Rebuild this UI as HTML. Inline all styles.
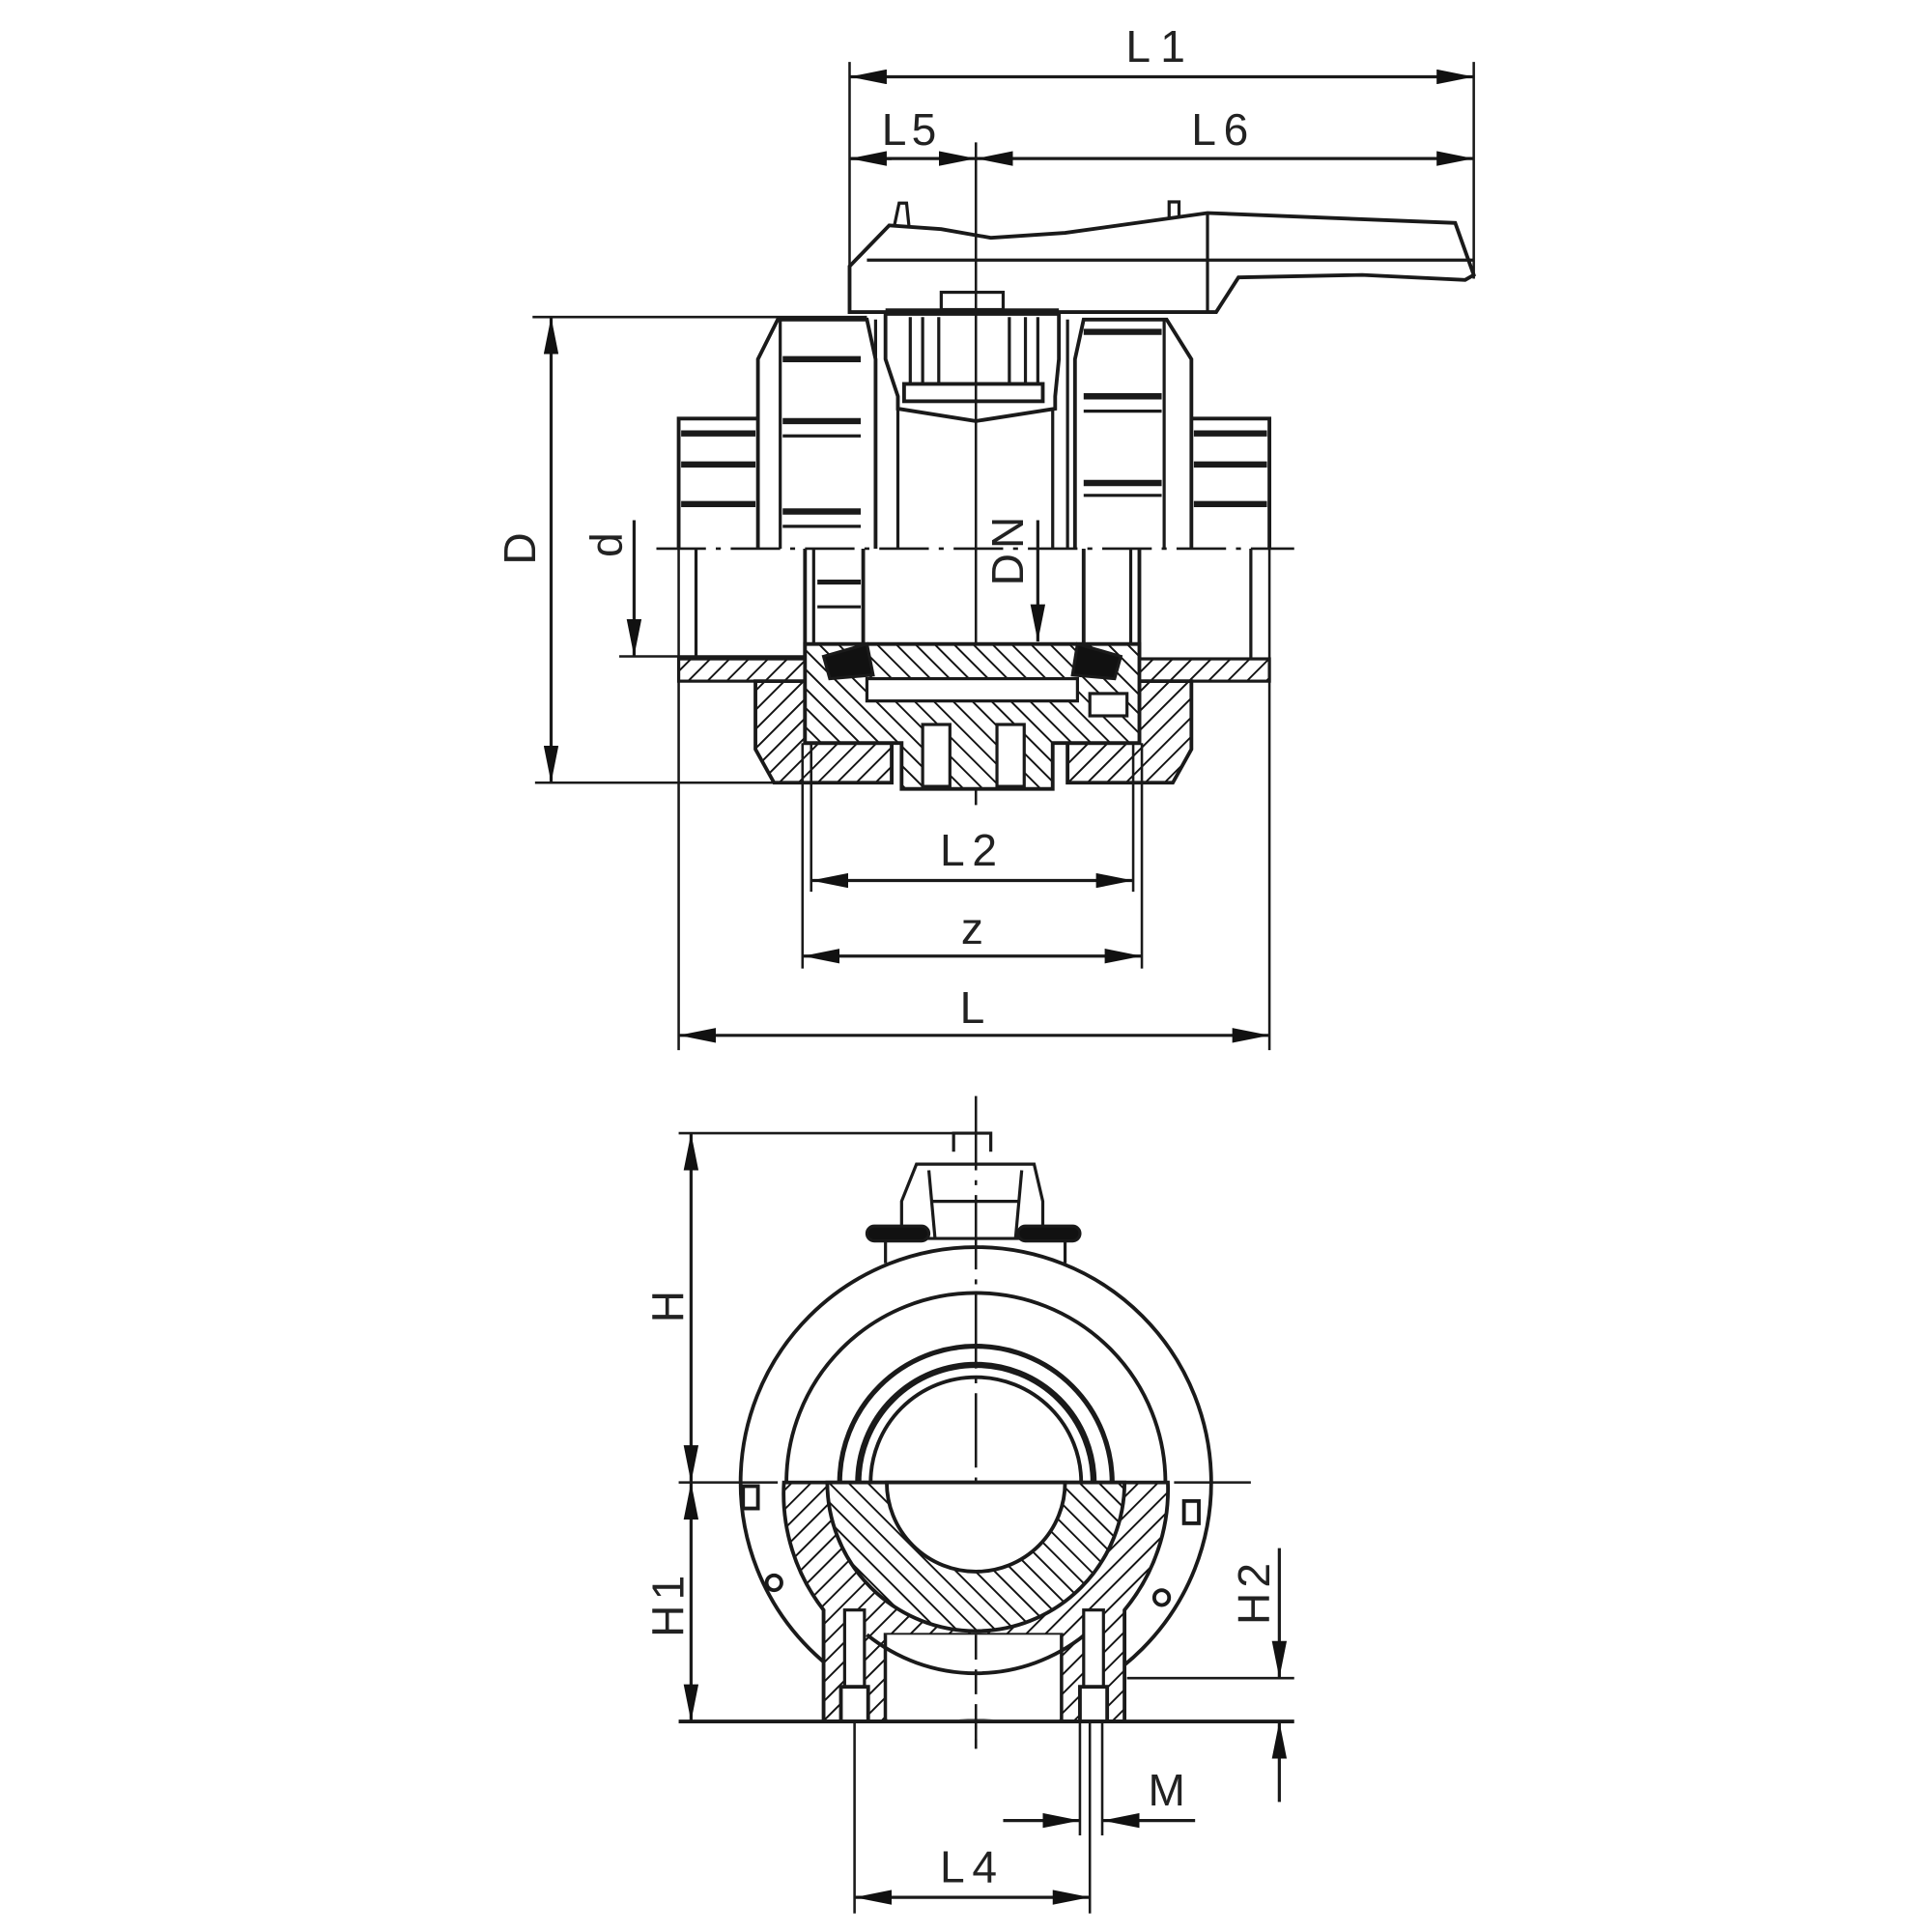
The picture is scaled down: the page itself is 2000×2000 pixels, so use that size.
<!DOCTYPE html>
<html><head><meta charset="utf-8"><style>
html,body{margin:0;padding:0;background:#fff}
svg{display:block}
text{font-family:"Liberation Sans Narrow","Liberation Sans",sans-serif;font-size:36px;fill:#222;text-anchor:middle}
</style></head><body>
<svg width="2000" height="2000" viewBox="0 0 1560 1560" xmlns="http://www.w3.org/2000/svg">
<defs>
<pattern id="h" width="11" height="11" patternUnits="userSpaceOnUse" patternTransform="rotate(45)">
<rect width="11" height="11" fill="#fff"/><line x1="0" y1="0" x2="0" y2="11" stroke="#111" stroke-width="3"/></pattern>
<pattern id="h2" width="11" height="11" patternUnits="userSpaceOnUse" patternTransform="rotate(-45)">
<rect width="11" height="11" fill="#fff"/><line x1="0" y1="0" x2="0" y2="11" stroke="#111" stroke-width="3"/></pattern>
<marker id="a" viewBox="0 0 30 12" refX="30" refY="6" markerWidth="30" markerHeight="12" markerUnits="userSpaceOnUse" orient="auto-start-reverse">
<path d="M0,0 L30,6 L0,12 Z" fill="#111"/></marker>
</defs>
<g fill="none" stroke="#1a1a1a" stroke-width="2.5">
<line x1="686" y1="50" x2="686" y2="250" stroke-width="2"/>
<line x1="1190" y1="50" x2="1190" y2="225" stroke-width="2"/>
<line x1="686" y1="62" x2="1190" y2="62" marker-start="url(#a)" marker-end="url(#a)"/>
<line x1="686" y1="128" x2="788" y2="128" marker-end="url(#a)"/>
<line x1="686" y1="128" x2="720" y2="128" marker-start="url(#a)"/>
<line x1="788" y1="128" x2="1190" y2="128" marker-start="url(#a)" marker-end="url(#a)"/>
<line x1="788" y1="115" x2="788" y2="650" stroke-width="2"/>
<path d="M686,250 L686,215 L718,182 L760,185 L800,192 L860,188 L975,172 L1175,180 L1190,222 L1183,226 L1100,222 L1000,224 L982,252 L686,252 Z" stroke-width="3"/>
<line x1="700" y1="210" x2="1190" y2="210"/>
<line x1="975" y1="172" x2="975" y2="252"/>
<path d="M722,183 L726,164 L732,164 L734,183"/>
<path d="M944,176 L944,163 L952,163 L952,176"/>
<line x1="430" y1="256" x2="700" y2="256" stroke-width="2"/>
<path d="M715,252 L715,290 L725,320 L725,330 L788,340 L852,330 L852,320 L855,290 L855,252" stroke-width="3"/>
<rect x="760" y="236" width="50" height="14"/>
<line x1="715" y1="252" x2="855" y2="252" stroke-width="6"/>
<line x1="735" y1="256" x2="735" y2="310"/><line x1="745" y1="256" x2="745" y2="310"/>
<line x1="828" y1="256" x2="828" y2="310"/><line x1="838" y1="256" x2="838" y2="310"/>
<line x1="758" y1="256" x2="758" y2="310"/><line x1="815" y1="256" x2="815" y2="310"/>
<rect x="730" y="310" width="112" height="14" stroke-width="3"/>
<line x1="707" y1="258" x2="707" y2="443"/><line x1="725" y1="330" x2="725" y2="443"/>
<line x1="850" y1="330" x2="850" y2="443"/><line x1="862" y1="258" x2="862" y2="443"/>
<path d="M612,443 L612,290 L628,258 L700,258 L707,290 L707,443" stroke-width="3"/>
<line x1="630" y1="258" x2="630" y2="443"/>
<g stroke-width="5"><line x1="632" y1="290" x2="695" y2="290"/><line x1="632" y1="340" x2="695" y2="340"/><line x1="632" y1="413" x2="695" y2="413"/></g>
<line x1="632" y1="352" x2="695" y2="352"/><line x1="632" y1="425" x2="695" y2="425"/>
<path d="M868,443 L868,290 L875,258 L942,258 L962,290 L962,443" stroke-width="3"/>
<line x1="940" y1="258" x2="940" y2="443"/>
<g stroke-width="5"><line x1="875" y1="320" x2="938" y2="320"/><line x1="875" y1="390" x2="938" y2="390"/><line x1="875" y1="268" x2="938" y2="268"/></g>
<line x1="875" y1="332" x2="938" y2="332"/><line x1="875" y1="400" x2="938" y2="400"/>
<path d="M612,338 L548,338 L548,443" stroke-width="3"/>
<path d="M962,338 L1025,338 L1025,443" stroke-width="3"/>
<g stroke-width="5"><line x1="550" y1="350" x2="610" y2="350"/><line x1="550" y1="375" x2="610" y2="375"/><line x1="550" y1="407" x2="610" y2="407"/>
<line x1="964" y1="350" x2="1023" y2="350"/><line x1="964" y1="375" x2="1023" y2="375"/><line x1="964" y1="407" x2="1023" y2="407"/></g>
<line x1="530" y1="443" x2="1045" y2="443" stroke-width="2" stroke-dasharray="40,8,4,8"/>
<line x1="548" y1="443" x2="548" y2="848" stroke-width="2"/>
<line x1="1025" y1="443" x2="1025" y2="848" stroke-width="2"/>
<line x1="562" y1="443" x2="562" y2="532"/><line x1="1010" y1="443" x2="1010" y2="532"/>
<line x1="650" y1="443" x2="650" y2="532" stroke-width="3"/><line x1="920" y1="443" x2="920" y2="532" stroke-width="3"/>
<line x1="657" y1="443" x2="657" y2="532"/><line x1="913" y1="443" x2="913" y2="532"/>
<line x1="697" y1="443" x2="697" y2="520" stroke-width="3"/><line x1="875" y1="443" x2="875" y2="520" stroke-width="3"/>
<line x1="660" y1="470" x2="695" y2="470" stroke-width="4"/><line x1="660" y1="490" x2="695" y2="490"/>
<rect x="548" y="532" width="477" height="18" fill="url(#h)"/>
<path d="M610,550 L610,605 L625,632 L720,632 L720,600 L650,600 L650,550 Z" fill="url(#h)" stroke-width="3"/>
<path d="M962,550 L962,605 L947,632 L862,632 L862,600 L920,600 L920,550 Z" fill="url(#h)" stroke-width="3"/>
<path d="M650,520 L920,520 L920,600 L850,600 L850,637 L728,637 L728,600 L650,600 Z" fill="url(#h2)" stroke-width="3"/>
<rect x="700" y="548" width="170" height="18" fill="#fff"/>
<rect x="745" y="585" width="22" height="50" fill="#fff"/><rect x="805" y="585" width="22" height="50" fill="#fff"/>
<path d="M665,530 L700,520 L705,545 L670,548 Z" fill="#111"/>
<path d="M905,530 L870,520 L866,545 L900,548 Z" fill="#111"/>
<rect x="880" y="560" width="30" height="18" fill="#fff"/>
<line x1="445" y1="256" x2="445" y2="632" marker-start="url(#a)" marker-end="url(#a)"/>
<line x1="432" y1="632" x2="690" y2="632" stroke-width="2"/>
<line x1="512" y1="420" x2="512" y2="530" marker-end="url(#a)"/>
<line x1="500" y1="530" x2="650" y2="530" stroke-width="2"/>
<line x1="838" y1="420" x2="838" y2="518" marker-end="url(#a)"/>
<line x1="655" y1="600" x2="655" y2="720" stroke-width="2"/><line x1="915" y1="600" x2="915" y2="720" stroke-width="2"/>
<line x1="648" y1="600" x2="648" y2="782" stroke-width="2"/><line x1="922" y1="600" x2="922" y2="782" stroke-width="2"/>
<line x1="655" y1="711" x2="915" y2="711" marker-start="url(#a)" marker-end="url(#a)"/>
<line x1="648" y1="772" x2="922" y2="772" marker-start="url(#a)" marker-end="url(#a)"/>
<line x1="548" y1="836" x2="1025" y2="836" marker-start="url(#a)" marker-end="url(#a)"/>
<line x1="788" y1="885" x2="788" y2="1412" stroke-width="2" stroke-dasharray="60,8,4,8"/>
<line x1="548" y1="1197" x2="1010" y2="1197" stroke-width="2" stroke-dasharray="80,8,4,8"/>
<line x1="548" y1="915" x2="785" y2="915" stroke-width="2"/>
<path d="M770,930 L770,915 L800,915 L800,930 M740,940 L835,940 L842,970 L842,1000 L728,1000 L728,970 Z" stroke-width="2.5"/>
<line x1="750" y1="945" x2="755" y2="1000"/><line x1="825" y1="945" x2="820" y2="1000"/>
<line x1="752" y1="970" x2="823" y2="970"/>
<rect x="700" y="990" width="50" height="12" rx="6" fill="#111"/>
<rect x="822" y="990" width="50" height="12" rx="6" fill="#111"/>
<line x1="715" y1="1002" x2="715" y2="1020"/><line x1="860" y1="1002" x2="860" y2="1020"/>
<circle cx="788" cy="1197" r="190" stroke-width="3"/>
<circle cx="788" cy="1197" r="153" stroke-width="3"/>
<path d="M678,1197 A110,110 0 0 1 898,1197" stroke-width="4"/>
<path d="M693,1197 A95,95 0 0 1 883,1197" stroke-width="5"/>
<path d="M703,1197 A85,85 0 0 1 873,1197" stroke-width="3"/>
<path d="M633,1197 L943,1197 A153,153 0 0 1 908,1300 L908,1390 L857,1390 L857,1320 L715,1320 L715,1390 L665,1390 L665,1300 A153,153 0 0 1 633,1197 Z" fill="url(#h)" stroke-width="3"/>
<path d="M668,1197 L908,1197 A120,120 0 0 1 668,1197 Z" fill="url(#h2)" stroke-width="3"/>
<path d="M716,1197 L860,1197 A72,72 0 0 1 716,1197 Z" fill="#fff" stroke-width="3"/>
<rect x="715" y="1320" width="142" height="68" fill="#fff" stroke="none"/>
<line x1="715" y1="1320" x2="715" y2="1390"/><line x1="857" y1="1320" x2="857" y2="1390"/>
<path d="M700,1320 A140,140 0 0 0 876,1320" stroke-width="3"/>
<line x1="788" y1="1320" x2="788" y2="1412" stroke-width="2" stroke-dasharray="20,8"/>
<rect x="682" y="1300" width="16" height="90" fill="#fff"/><rect x="875" y="1300" width="16" height="90" fill="#fff"/>
<rect x="679" y="1362" width="22" height="28" fill="#fff" stroke-width="3"/><rect x="872" y="1362" width="22" height="28" fill="#fff" stroke-width="3"/>
<rect x="600" y="1200" width="12" height="18" stroke-width="3"/><rect x="956" y="1212" width="12" height="18" stroke-width="3"/>
<circle cx="625" cy="1278" r="6" stroke-width="3"/><circle cx="938" cy="1290" r="6" stroke-width="3"/>
<line x1="548" y1="1390" x2="1045" y2="1390" stroke-width="3"/>
<line x1="558" y1="915" x2="558" y2="1197" marker-start="url(#a)" marker-end="url(#a)"/>
<line x1="558" y1="1197" x2="558" y2="1390" marker-start="url(#a)" marker-end="url(#a)"/>
<line x1="910" y1="1355" x2="1045" y2="1355" stroke-width="2"/>
<line x1="1033" y1="1250" x2="1033" y2="1355" marker-end="url(#a)"/>
<line x1="1033" y1="1455" x2="1033" y2="1390" marker-end="url(#a)"/>
<line x1="872" y1="1390" x2="872" y2="1482" stroke-width="2"/><line x1="890" y1="1390" x2="890" y2="1482" stroke-width="2"/>
<line x1="810" y1="1470" x2="872" y2="1470" marker-end="url(#a)"/>
<line x1="965" y1="1470" x2="890" y2="1470" marker-end="url(#a)"/>
<line x1="690" y1="1390" x2="690" y2="1545" stroke-width="2"/><line x1="880" y1="1390" x2="880" y2="1545" stroke-width="2"/>
<line x1="690" y1="1532" x2="880" y2="1532" marker-start="url(#a)" marker-end="url(#a)"/>
</g>
<g>
<text x="937" y="50" letter-spacing="8">L1</text>
<text x="736" y="117" letter-spacing="4">L5</text>
<text x="988" y="117" letter-spacing="6">L6</text>
<text x="785" y="699" letter-spacing="6">L2</text>
<text x="785" y="762">z</text>
<text x="785" y="826">L</text>
<text transform="translate(432,443) rotate(-90)">D</text>
<text transform="translate(502,440) rotate(-90)">d</text>
<text transform="translate(826,443) rotate(-90)" letter-spacing="4">DN</text>
<text transform="translate(552,1055) rotate(-90)">H</text>
<text transform="translate(552,1295) rotate(-90)" letter-spacing="4">H1</text>
<text transform="translate(1025,1285) rotate(-90)" letter-spacing="4">H2</text>
<text x="942" y="1458">M</text>
<text x="785" y="1520" letter-spacing="6">L4</text>
</g>
</svg>
</body></html>
